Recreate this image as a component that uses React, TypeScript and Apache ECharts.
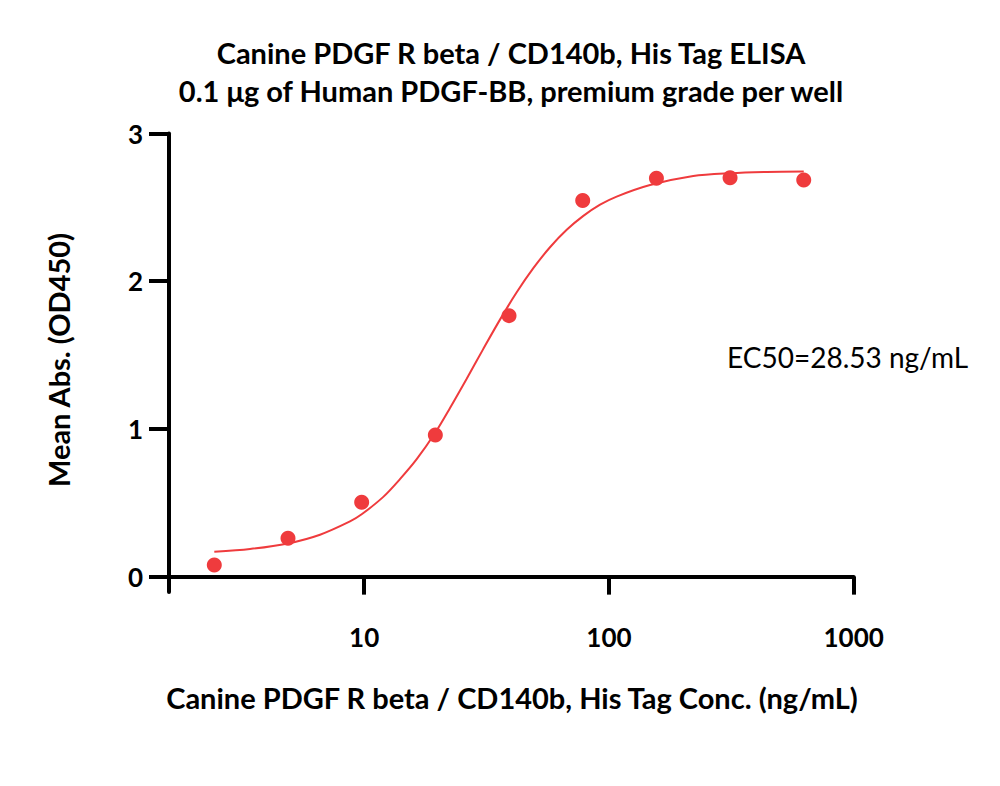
import React, { useEffect, useRef } from "react";
import * as echarts from "echarts";

const concentrations = [2.441, 4.883, 9.766, 19.53, 39.06, 78.13, 156.3, 312.5, 625];
const meanAbs = [0.079, 0.26, 0.504, 0.959, 1.767, 2.546, 2.697, 2.701, 2.686];

const fitX = [2.441, 3.415, 4.882, 6.6, 8.75, 9.766, 11.97, 14.0, 16.39, 19.47, 22.42, 26.23, 30.67, 35.88, 41.99, 49.09, 57.43, 67.21, 78.59, 92.0, 107.5, 147.2, 221.1, 312.3, 441.1, 625];
const fitY = [0.168, 0.187, 0.225, 0.284, 0.374, 0.422, 0.54, 0.66, 0.795, 0.972, 1.142, 1.34, 1.542, 1.74, 1.925, 2.088, 2.23, 2.348, 2.442, 2.518, 2.573, 2.651, 2.712, 2.731, 2.74, 2.743];

const xTicks = [10, 100, 1000];
const yTicks = [0, 1, 2, 3];

const titleLine1 = "Canine PDGF R beta / CD140b, His Tag ELISA";
const titleLine2 = "0.1 μg of Human PDGF-BB, premium grade per well";
const xAxisTitle = "Canine PDGF R beta / CD140b, His Tag Conc. (ng/mL)";
const yAxisTitle = "Mean Abs. (OD450)";
const ec50Label = "EC50=28.53 ng/mL";

const RED = "#EF3B3D";
const FONT = "Lato";

export default function App() {
  const ref = useRef<HTMLDivElement>(null);
  useEffect(() => {
    document.body.style.margin = "0";
    if (!ref.current) return;
    const chart = echarts.init(ref.current, undefined, { renderer: "svg" });
    const boldText = (text: string, x: number, y: number, size: number, extra: any = {}) => ({
      type: "text",
      x,
      y,
      ...extra,
      style: {
        text,
        fontFamily: FONT,
        fontWeight: "bold",
        fontSize: size,
        fill: "#000",
        align: "center",
        verticalAlign: "middle",
      },
    });
    chart.setOption({
      animation: false,
      backgroundColor: "#fff",
      grid: { left: 169, right: 146.3, top: 133.5, bottom: 194, containLabel: false },
      xAxis: {
        type: "log",
        logBase: 10,
        min: 1.594,
        max: 1000,
        splitLine: { show: false },
        axisLine: { show: true, lineStyle: { color: "#000", width: 4 } },
        axisTick: { show: true, length: 18, lineStyle: { color: "#000", width: 4 }, customValues: xTicks },
        axisLabel: {
          customValues: xTicks,
          formatter: (v: number) => String(Math.round(v)),
          margin: 32,
          color: "#000",
          fontFamily: FONT,
          fontWeight: "bold",
          fontSize: 26,
        },
      },
      yAxis: {
        type: "value",
        min: -0.104,
        max: 3,
        splitLine: { show: false },
        axisLine: { show: true, lineStyle: { color: "#000", width: 4 } },
        axisTick: { show: true, length: 20, lineStyle: { color: "#000", width: 4 }, customValues: yTicks },
        axisLabel: {
          customValues: yTicks,
          formatter: (v: number) => String(Math.round(v)),
          margin: 26,
          color: "#000",
          fontFamily: FONT,
          fontWeight: "bold",
          fontSize: 26,
        },
      },
      graphic: [
        boldText(titleLine1, 511, 52, 29),
        boldText(titleLine2, 511, 90, 29),
        boldText(xAxisTitle, 512, 697, 29),
        boldText(yAxisTitle, 58, 360, 29, { rotation: Math.PI / 2 }),
        {
          type: "text",
          x: 727,
          y: 357,
          style: {
            text: ec50Label,
            fontFamily: FONT,
            fontSize: 28,
            fill: "#000",
            align: "left",
            verticalAlign: "middle",
          },
        },
      ],
      series: [
        {
          type: "line",
          data: fitX.map((x, i) => [x, fitY[i]]),
          smooth: 0.3,
          showSymbol: false,
          lineStyle: { color: RED, width: 2 },
          z: 2,
        },
        {
          type: "scatter",
          data: concentrations.map((x, i) => [x, meanAbs[i]]),
          symbol: "circle",
          symbolSize: 15,
          itemStyle: { color: RED, opacity: 1 },
          z: 3,
        },
      ],
    });
    return () => chart.dispose();
  }, []);
  return <div ref={ref} style={{ width: 1000, height: 786 }} />;
}
